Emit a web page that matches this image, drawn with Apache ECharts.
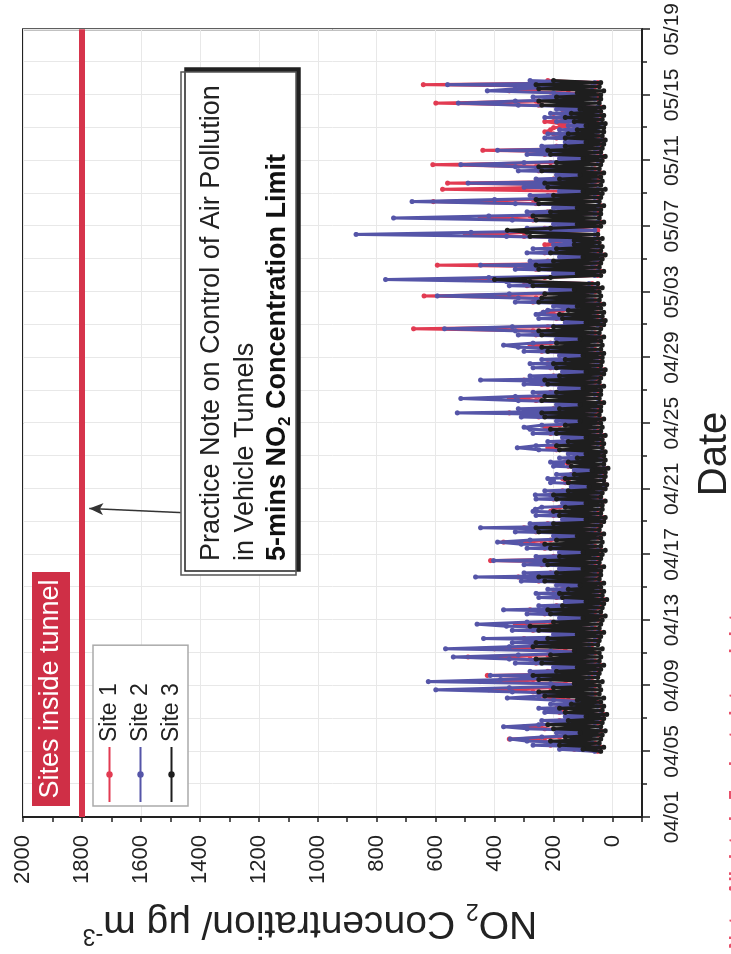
<!DOCTYPE html>
<html>
<head>
<meta charset="utf-8">
<script src="https://cdn.jsdelivr.net/npm/echarts@6/dist/echarts.min.js"></script>
<style>
  html, body { margin: 0; padding: 0; background: #fff; overflow: hidden; }
  #wrap { width: 731px; height: 954px; position: relative; overflow: hidden; }
  /* chart is drawn landscape, then turned a quarter turn to the left like the scan */
  #chart {
    position: absolute; left: 0; top: 0;
    width: 954px; height: 731px;
    transform-origin: 0 0;
    transform: translate(0, 954px) rotate(-90deg);
  }
</style>
</head>
<body>
<div id="wrap"><div id="chart"></div></div>
<script>
// x is days after 04/01 00:00, one reading every 3 hours from 04/05 00:00
const startDay = 4
const stepDay = 0.125
const seriesNames = ['Site 1', 'Site 2', 'Site 3']
const yTicks = [0, 200, 400, 600, 800, 1000, 1200, 1400, 1600, 1800, 2000]
const limitValue = 1800

// rows = one day (00,03,06,09,12,15,18,21 h), 04/05 .. 05/15
// the 5-min record swings hard, so readings alternate between the low and high edge of the band
const site1 = [
  [50, 130, 40, 210, 60, 230, 350, 180],
  [50, 140, 40, 230, 300, 240, 50, 180],
  [40, 120, 30, 180, 160, 190, 40, 160],
  [50, 150, 200, 250, 60, 270, 420, 210],
  [60, 160, 450, 270, 70, 425, 50, 220],
  [50, 150, 40, 260, 60, 280, 490, 220],
  [60, 160, 400, 280, 70, 270, 50, 300],
  [50, 150, 40, 270, 60, 290, 330, 210],
  [50, 130, 40, 230, 60, 280, 50, 190],
  [40, 120, 30, 190, 50, 200, 40, 170],
  [50, 140, 40, 250, 60, 320, 50, 210],
  [50, 130, 40, 240, 60, 414, 50, 200],
  [50, 130, 40, 230, 60, 240, 370, 210],
  [50, 150, 40, 260, 60, 300, 50, 220],
  [40, 120, 30, 200, 50, 210, 200, 180],
  [40, 120, 30, 200, 50, 210, 40, 170],
  [30, 100, 25, 160, 150, 170, 30, 140],
  [30, 90, 25, 150, 150, 160, 30, 130],
  [40, 110, 30, 190, 220, 200, 40, 170],
  [40, 120, 30, 210, 50, 220, 230, 180],
  [50, 140, 40, 250, 60, 350, 50, 200],
  [50, 140, 40, 260, 350, 250, 50, 210],
  [50, 130, 40, 240, 60, 300, 50, 200],
  [40, 120, 30, 210, 50, 220, 40, 180],
  [50, 130, 40, 240, 60, 250, 280, 210],
  [50, 140, 40, 260, 60, 270, 675, 220],
  [40, 110, 30, 190, 50, 200, 235, 170],
  [50, 150, 40, 270, 60, 260, 640, 230],
  [60, 160, 50, 290, 70, 300, 500, 230],
  [50, 150, 40, 260, 60, 595, 50, 220],
  [40, 130, 30, 230, 50, 220, 40, 230],
  [200, 160, 50, 300, 500, 300, 50, 230],
  [50, 150, 40, 270, 450, 280, 50, 220],
  [50, 150, 40, 260, 608, 270, 50, 220],
  [50, 130, 577, 240, 60, 560, 50, 200],
  [50, 140, 40, 250, 60, 260, 610, 210],
  [40, 130, 30, 230, 50, 440, 40, 190],
  [40, 120, 30, 190, 50, 200, 230, 210],
  [200, 130, 180, 230, 50, 200, 40, 170],
  [50, 140, 40, 250, 600, 260, 50, 210],
  [50, 150, 350, 260, 60, 642, 50, 220]
]
const site2 = [
  [60, 180, 50, 270, 70, 290, 347, 240],
  [60, 190, 50, 290, 370, 250, 60, 240],
  [50, 160, 40, 230, 180, 250, 50, 210],
  [60, 200, 357, 250, 70, 340, 600, 350],
  [70, 210, 625, 380, 80, 415, 60, 280],
  [60, 200, 50, 330, 70, 350, 540, 320],
  [70, 210, 567, 350, 80, 340, 60, 438],
  [60, 200, 50, 340, 70, 360, 460, 290],
  [60, 180, 50, 290, 70, 370, 60, 250],
  [50, 160, 40, 250, 60, 260, 50, 220],
  [60, 190, 50, 310, 70, 465, 60, 300],
  [60, 180, 50, 300, 70, 404, 60, 260],
  [60, 180, 50, 290, 70, 310, 390, 280],
  [60, 200, 50, 330, 70, 448, 60, 280],
  [50, 170, 40, 260, 60, 270, 262, 240],
  [50, 170, 40, 260, 60, 262, 50, 230],
  [40, 140, 30, 210, 200, 220, 40, 190],
  [40, 130, 30, 200, 170, 210, 40, 180],
  [50, 150, 40, 250, 323, 260, 50, 220],
  [50, 170, 40, 270, 60, 280, 300, 240],
  [60, 190, 50, 310, 70, 527, 60, 320],
  [60, 190, 50, 320, 515, 330, 60, 270],
  [60, 180, 50, 300, 70, 448, 60, 280],
  [50, 170, 40, 270, 60, 280, 50, 240],
  [60, 180, 50, 300, 70, 320, 370, 270],
  [60, 190, 50, 320, 70, 330, 570, 340],
  [50, 160, 40, 250, 60, 260, 235, 220],
  [60, 200, 50, 330, 70, 320, 595, 350],
  [70, 210, 60, 350, 80, 360, 770, 420],
  [60, 200, 50, 330, 70, 448, 60, 280],
  [50, 180, 40, 290, 60, 270, 50, 200],
  [60, 210, 60, 360, 870, 480, 60, 290],
  [60, 200, 50, 340, 743, 420, 60, 290],
  [60, 200, 50, 330, 680, 400, 60, 280],
  [60, 180, 50, 300, 70, 490, 60, 260],
  [60, 190, 50, 320, 70, 330, 515, 300],
  [50, 180, 40, 290, 60, 390, 50, 240],
  [50, 160, 40, 230, 60, 220, 50, 180],
  [50, 150, 40, 190, 60, 230, 50, 210],
  [60, 190, 50, 320, 523, 330, 60, 270],
  [60, 200, 425, 330, 70, 560, 60, 280]
]
const site3 = [
  [40, 100, 30, 180, 45, 210, 40, 160],
  [35, 110, 25, 200, 40, 220, 35, 150],
  [30, 90, 20, 160, 35, 180, 30, 140],
  [40, 120, 30, 230, 45, 250, 40, 200],
  [45, 130, 35, 250, 50, 270, 45, 190],
  [40, 120, 30, 240, 45, 260, 40, 210],
  [45, 130, 35, 270, 50, 260, 45, 220],
  [40, 120, 30, 250, 45, 280, 40, 200],
  [35, 100, 25, 210, 40, 220, 35, 170],
  [30, 90, 20, 170, 35, 180, 30, 150],
  [40, 110, 30, 230, 45, 250, 40, 190],
  [40, 100, 30, 220, 45, 230, 40, 180],
  [35, 100, 25, 210, 40, 230, 35, 190],
  [40, 120, 30, 250, 45, 260, 40, 200],
  [30, 90, 25, 180, 40, 200, 35, 160],
  [35, 90, 25, 190, 40, 200, 35, 150],
  [25, 80, 20, 150, 30, 160, 25, 130],
  [25, 70, 15, 140, 30, 150, 25, 120],
  [30, 90, 25, 180, 35, 190, 30, 150],
  [35, 90, 25, 190, 40, 210, 35, 160],
  [40, 110, 30, 230, 45, 240, 40, 180],
  [40, 110, 30, 240, 45, 230, 40, 190],
  [40, 100, 30, 220, 45, 230, 40, 180],
  [30, 90, 25, 190, 40, 200, 35, 160],
  [35, 100, 30, 220, 40, 240, 35, 190],
  [40, 110, 30, 240, 45, 250, 40, 200],
  [30, 90, 25, 170, 35, 180, 30, 150],
  [40, 120, 30, 250, 45, 240, 40, 230],
  [45, 130, 35, 270, 50, 280, 400, 210],
  [40, 120, 30, 250, 45, 260, 40, 200],
  [35, 100, 25, 210, 40, 190, 35, 130],
  [45, 130, 35, 280, 50, 290, 357, 210],
  [40, 120, 30, 260, 45, 270, 40, 210],
  [40, 120, 30, 250, 45, 260, 40, 200],
  [35, 100, 25, 220, 40, 230, 35, 180],
  [40, 110, 30, 240, 45, 250, 40, 190],
  [35, 100, 25, 210, 40, 220, 35, 160],
  [30, 90, 25, 160, 35, 150, 30, 120],
  [30, 90, 25, 130, 35, 160, 30, 140],
  [40, 110, 30, 240, 45, 250, 40, 190],
  [40, 120, 30, 250, 45, 260, 40, 200]
]

const colors = ['#e23b52', '#5555a8', '#1e1e1e']
const font = 'Liberation Sans, Arial, sans-serif'

function toPoints(rows) {
  const pts = []
  rows.forEach(function (row, d) {
    row.forEach(function (v, k) {
      pts.push([startDay + d + k * stepDay, v])
    })
  })
  return pts
}

function dayLabel(d) {
  const dt = new Date(2000, 3, 1 + d)
  const mm = String(dt.getMonth() + 1).padStart(2, '0')
  const dd = String(dt.getDate()).padStart(2, '0')
  return mm + '/' + dd
}

const chart = echarts.init(document.getElementById('chart'))

const series = [site1, site2, site3].map(function (rows, i) {
  const s = {
    name: seriesNames[i],
    type: 'line',
    data: toPoints(rows),
    symbol: 'circle',
    symbolSize: 5,
    showSymbol: true,
    sampling: null,
    itemStyle: { color: colors[i] },
    lineStyle: { color: colors[i], width: 3 },
    z: 2 + i
  }
  if (i === 0) {
    s.markLine = {
      silent: true,
      symbol: ['none', 'none'],
      label: { show: false },
      data: [
        { yAxis: limitValue, lineStyle: { color: '#d6344b', width: 6, type: 'solid' } },
        [
          { coord: [18.55, 1465], symbol: 'none', lineStyle: { color: '#333', width: 1.5, type: 'solid' } },
          { coord: [18.8, 1775], symbol: 'arrow', symbolSize: [9, 14] }
        ]
      ]
    }
  }
  return s
})

chart.setOption({
  animation: false,
  backgroundColor: '#fff',
  grid: {
    left: 137, right: 28, top: 23, bottom: 89,
    show: true, borderColor: '#222', borderWidth: 2
  },
  legend: {
    data: seriesNames,
    orient: 'vertical',
    left: 148, top: 93,
    itemWidth: 55, itemHeight: 8, itemGap: 8,
    padding: [5, 38, 5, 3],
    borderColor: '#aaa', borderWidth: 1.5,
    backgroundColor: '#fff',
    itemStyle: { borderWidth: 0 },
    lineStyle: { width: 2 },
    textStyle: { fontFamily: font, fontSize: 23, color: '#222', lineHeight: 23 }
  },
  xAxis: {
    type: 'value', min: 0, max: 48, interval: 4,
    axisLine: { onZero: false, lineStyle: { color: '#222', width: 2 } },
    axisTick: { show: true, length: 8, lineStyle: { color: '#222', width: 1.5 } },
    minorTick: { show: true, splitNumber: 2, length: 5, lineStyle: { color: '#222', width: 1.5 } },
    splitLine: { show: true, lineStyle: { color: '#e8e8e8', width: 1 } },
    minorSplitLine: { show: true, lineStyle: { color: '#e8e8e8', width: 1 } },
    axisLabel: {
      margin: 20, color: '#222', fontSize: 21,
      fontFamily: 'Liberation Sans Narrow, Arial Narrow, Liberation Sans, sans-serif',
      formatter: dayLabel
    }
  },
  yAxis: {
    type: 'value', min: -100, max: 2000, interval: 100,
    axisLine: { show: true, lineStyle: { color: '#222', width: 2 } },
    axisTick: { show: true, length: 5, lineStyle: { color: '#222', width: 1.5 } },
    splitLine: { show: true, lineStyle: { color: ['rgba(0,0,0,0)', '#e8e8e8'], width: 1 } },
    axisLabel: {
      margin: 18, color: '#222', fontSize: 22, fontFamily: font,
      formatter: function (v) { return yTicks.indexOf(v) >= 0 ? String(v) : '' }
    }
  },
  graphic: [
    {
      type: 'text', x: 31, y: 310, rotation: Math.PI / 2,
      style: {
        text: '{a|NO}{b|2}{a| Concentration/ μg m}{c|-3}',
        align: 'center', verticalAlign: 'middle', fill: '#222',
        rich: {
          a: { fontFamily: font, fontSize: 39, lineHeight: 48, fill: '#222' },
          b: { fontFamily: font, fontSize: 23, lineHeight: 23, verticalAlign: 'bottom', fill: '#222' },
          c: { fontFamily: font, fontSize: 23, lineHeight: 23, verticalAlign: 'top', fill: '#222' }
        }
      }
    },
    {
      type: 'text', x: 500, y: 715,
      style: { text: 'Date', fontFamily: font, fontSize: 40, fill: '#222', align: 'center', verticalAlign: 'middle' }
    },
    {
      type: 'rect', shape: { x: 148, y: 32, width: 234, height: 38 },
      style: { fill: '#cf2f46' }, z: 10
    },
    {
      type: 'text', x: 265, y: 51, z: 11,
      style: { text: 'Sites inside tunnel', fontFamily: font, fontSize: 27, fill: '#fff', align: 'center', verticalAlign: 'middle' }
    },
    {
      type: 'rect', shape: { x: 379, y: 181, width: 503, height: 115 }, z: 10,
      style: { fill: '#fff', stroke: '#555', lineWidth: 1.5, shadowColor: '#222', shadowOffsetX: 4, shadowOffsetY: 4, shadowBlur: 0 }
    },
    {
      type: 'text', x: 393, y: 212, z: 11,
      style: { text: 'Practice Note on Control of Air Pollution', fontFamily: font, fontSize: 27, fill: '#222', verticalAlign: 'middle' }
    },
    {
      type: 'text', x: 393, y: 246, z: 11,
      style: { text: 'in Vehicle Tunnels', fontFamily: font, fontSize: 27, fill: '#222', verticalAlign: 'middle' }
    },
    {
      type: 'text', x: 393, y: 278, z: 11,
      style: {
        text: '{a|5-mins NO}{b|2}{a| Concentration Limit}', verticalAlign: 'middle',
        rich: {
          a: { fontFamily: font, fontSize: 27, fontWeight: 'bold', lineHeight: 32, fill: '#111' },
          b: { fontFamily: font, fontSize: 17, fontWeight: 'bold', lineHeight: 17, verticalAlign: 'bottom', fill: '#111' }
        }
      }
    },
    {
      type: 'text', x: 5, y: 727,
      style: { text: 'Note: All data is 5-minute interval data', fontFamily: font, fontSize: 19, fontWeight: 'bold', fill: '#e8506a', verticalAlign: 'top' }
    }
  ],
  series: series
})
</script>
</body>
</html>
